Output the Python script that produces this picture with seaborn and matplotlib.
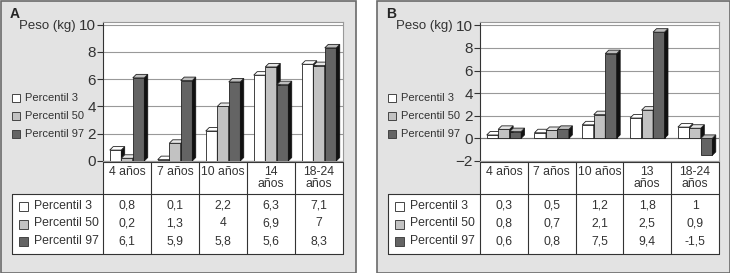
import numpy as np
import pandas as pd
import matplotlib
matplotlib.use("Agg")
import matplotlib.pyplot as plt
from matplotlib.patches import Rectangle, Polygon
import seaborn as sns

# datos
edades_a = ["4 años", "7 años", "10 años", "14\naños", "18-24\naños"]
edades_b = ["4 años", "7 años", "10 años", "13\naños", "18-24\naños"]
series = ["Percentil 3", "Percentil 50", "Percentil 97"]
a_p3 = [0.8, 0.1, 2.2, 6.3, 7.1]
a_p50 = [0.2, 1.3, 4.0, 6.9, 7.0]
a_p97 = [6.1, 5.9, 5.8, 5.6, 8.3]
b_p3 = [0.3, 0.5, 1.2, 1.8, 1.0]
b_p50 = [0.8, 0.7, 2.1, 2.5, 0.9]
b_p97 = [0.6, 0.8, 7.5, 9.4, -1.5]

colores = ["#ffffff", "#c2c2c2", "#646464"]
tapas = ["#ffffff", "#e6e6e6", "#bdbdbd"]

sns.set_theme(style="white")
plt.rcParams["font.family"] = ["Liberation Sans", "DejaVu Sans"]

W, H = 730, 273
fig = plt.figure(figsize=(W / 100, H / 100), dpi=100)
fig.patch.set_facecolor("white")


def fx(px):
    return px / W


def fy(py):
    return 1 - py / H


def fmt(v):
    return ("%g" % v).replace(".", ",")


def panel(x0, x1, letra, edades, valores, ax_left, ax_right, y_top, ylim, yticks, tab_left):
    # fondo gris del panel
    fig.add_artist(Rectangle((fx(x0 + 0.5), fy(272.5)), fx(x1 - x0 - 1), 272 / H, transform=fig.transFigure,
                             facecolor="#e3e3e3", edgecolor="#6a6a6a", lw=1.2, zorder=-5))
    fig.text(fx(x0 + 10), fy(14), letra, fontsize=10, fontweight="bold", va="center", ha="left")

    # ejes del gráfico
    y_bottom_px = 161
    ax = fig.add_axes([fx(ax_left), fy(y_bottom_px), fx(ax_right - ax_left), (y_bottom_px - y_top) / H])
    ax.set_zorder(2)
    df = pd.DataFrame({
        "edad": list(range(5)) * 3,
        "serie": np.repeat(series, 5),
        "peso": valores[0] + valores[1] + valores[2],
    })
    sns.barplot(data=df, x="edad", y="peso", hue="serie", palette=colores, width=0.72,
                edgecolor="#222222", linewidth=0.6, ax=ax, legend=False, zorder=3)
    ax.set_xlim(-0.5, 4.5)
    ax.set_ylim(*ylim)
    ax.set_facecolor("white")
    ax.set_yticks(yticks)
    ax.set_yticklabels([("%d" % t).replace("-", "\u2212") for t in yticks], fontsize=11, color="#333333")
    ax.set_xticks([])
    ax.set_xlabel("")
    ax.set_ylabel("")
    ax.tick_params(axis="y", length=4, width=0.8, color="#333333", pad=1, left=True)
    ax.yaxis.grid(True, color="#999999", lw=0.8)
    ax.set_axisbelow(True)
    for s in ["top", "right", "bottom"]:
        ax.spines[s].set_color("#999999")
        ax.spines[s].set_linewidth(0.8)
    ax.spines["left"].set_color("#333333")
    ax.spines["left"].set_linewidth(0.8)
    ax.axhline(0, color="#777777", lw=0.8, zorder=2)

    # efecto 3D: cara superior y lateral
    px_x = (ax_right - ax_left) / 5.0
    px_y = (y_bottom_px - y_top) / (ylim[1] - ylim[0])
    dx = 3.5 / px_x
    dy = 3.5 / px_y
    for k, p in enumerate(list(ax.patches)):
        x, w = p.get_x(), p.get_width()
        y, h = p.get_y(), p.get_height()
        lo, hi = min(y, y + h), max(y, y + h)
        zo = 4 + k * 0.01
        j = k // 5
        ax.add_patch(Polygon([(x + w, lo), (x + w, hi), (x + w + dx, hi + dy), (x + w + dx, lo + dy)],
                             closed=True, facecolor="#111111", edgecolor="#111111", lw=0.5, zorder=zo))
        ax.add_patch(Polygon([(x, hi), (x + w, hi), (x + w + dx, hi + dy), (x + dx, hi + dy)],
                             closed=True, facecolor=tapas[j], edgecolor="#222222", lw=0.6, zorder=zo))
        p.set_zorder(zo)

    fig.text(fx(ax_left - 27), fy(y_top + 4), "Peso (kg)", fontsize=9.5, ha="right", va="center", color="#333333")

    # leyenda lateral
    for j, s in enumerate(series):
        yy = 98 + 18 * j
        fig.add_artist(Rectangle((fx(x0 + 12), fy(yy + 4)), fx(8), 8 / H, transform=fig.transFigure,
                                 facecolor=colores[j], edgecolor="#444444", lw=0.7, zorder=2))
        fig.text(fx(x0 + 25), fy(yy), s, fontsize=8, ha="left", va="center", color="#333333")

    # tabla
    tab_top, head_bot, tab_bot = 162, 194, 254
    fig.add_artist(Rectangle((fx(ax_left), fy(tab_bot)), fx(ax_right - ax_left), (tab_bot - tab_top) / H,
                             transform=fig.transFigure, facecolor="white", edgecolor="none", zorder=-1))
    fig.add_artist(Rectangle((fx(tab_left), fy(tab_bot)), fx(ax_left - tab_left), (tab_bot - head_bot) / H,
                             transform=fig.transFigure, facecolor="white", edgecolor="none", zorder=-1))
    xs = np.linspace(ax_left, ax_right, 6)
    lines = dict(color="#333333", lw=0.8, transform=fig.transFigure)
    fig.add_artist(plt.Line2D([fx(ax_left), fx(ax_right)], [fy(tab_top), fy(tab_top)], **lines))
    fig.add_artist(plt.Line2D([fx(tab_left), fx(ax_right)], [fy(head_bot), fy(head_bot)], **lines))
    fig.add_artist(plt.Line2D([fx(tab_left), fx(ax_right)], [fy(tab_bot), fy(tab_bot)], **lines))
    fig.add_artist(plt.Line2D([fx(tab_left), fx(tab_left)], [fy(head_bot), fy(tab_bot)], **lines))
    for xv in xs:
        fig.add_artist(plt.Line2D([fx(xv), fx(xv)], [fy(tab_top), fy(tab_bot)], **lines))
    for i, e in enumerate(edades):
        cx = (xs[i] + xs[i + 1]) / 2
        fig.text(fx(cx), fy(166), e, fontsize=8.8, ha="center", va="top", linespacing=0.95, color="#333333")
    for j, s in enumerate(series):
        yy = 206 + 17.5 * j
        fig.add_artist(Rectangle((fx(tab_left + 7), fy(yy + 5)), fx(9), 9 / H, transform=fig.transFigure,
                                 facecolor=colores[j], edgecolor="#444444", lw=0.7, zorder=2))
        fig.text(fx(tab_left + 22), fy(yy), s, fontsize=8.8, ha="left", va="center", color="#333333")
        for i in range(5):
            cx = (xs[i] + xs[i + 1]) / 2
            fig.text(fx(cx), fy(yy), fmt(valores[j][i]), fontsize=8.8, ha="center", va="center", color="#333333")
    return ax


panel(0, 356, "A", edades_a, [a_p3, a_p50, a_p97], 103, 343, 22, (0, 10.2), [0, 2, 4, 6, 8, 10], 12)
panel(376, 730, "B", edades_b, [b_p3, b_p50, b_p97], 480, 719, 22, (-2, 10.3), [-2, 0, 2, 4, 6, 8, 10], 388)

fig.savefig("out.png", dpi=100)
